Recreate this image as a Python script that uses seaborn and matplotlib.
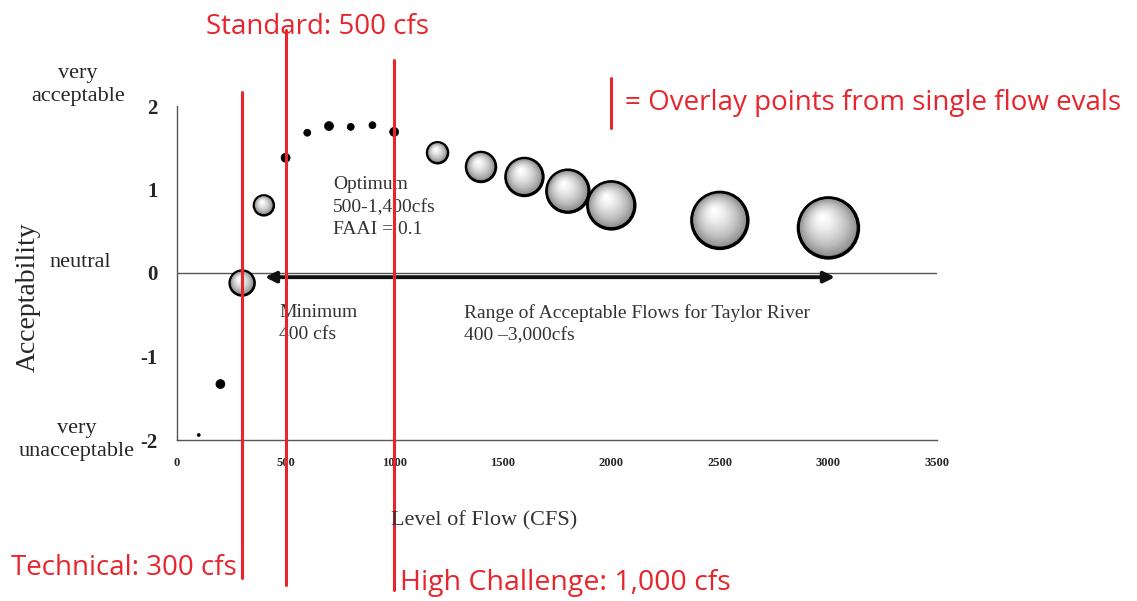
import numpy as np
import pandas as pd
import matplotlib
matplotlib.use("Agg")
import matplotlib.pyplot as plt
import matplotlib.transforms as mtransforms
import seaborn as sns

# flow levels (cfs), mean acceptability and marker diameter (spread of responses)
flow = [100, 200, 300, 400, 500, 600, 700, 800, 900, 1000,
        1200, 1400, 1600, 1800, 2000, 2500, 3000]
acceptability = [-1.94, -1.33, -0.12, 0.81, 1.38, 1.68, 1.76, 1.75, 1.77, 1.69,
                 1.44, 1.27, 1.15, 0.98, 0.81, 0.63, 0.54]
spread = [3, 9, 24, 19, 9, 7, 9, 7, 7, 9,
          20, 29, 37, 42, 47, 56, 60]

overlay_flows = [300, 500, 1000]
overlay_labels = ["Technical: 300 cfs", "Standard: 500 cfs", "High Challenge: 1,000 cfs"]

x_ticks = [0, 500, 1000, 1500, 2000, 2500, 3000, 3500]
y_ticks = [-2, -1, 0, 1, 2]

df = pd.DataFrame({"flow": flow, "acc": acceptability, "spread": spread})
df["s"] = (df["spread"] * 0.72) ** 2
df["kind"] = np.where(df["spread"] >= 15, "bubble", "dot")

sns.set_style("white")
plt.rcParams["font.family"] = ["Liberation Serif", "DejaVu Serif"]

fig = plt.figure(figsize=(11.37, 6.01), dpi=100)
ax = fig.add_axes([177 / 1137, 161 / 601, 760 / 1137, 334 / 601])

red = "#e8242c"

# zero line and range arrow
ax.axhline(0, color="#555555", lw=1, zorder=1)
ax.annotate("", xy=(405, -0.05), xytext=(3030, -0.05),
            arrowprops=dict(arrowstyle="<|-|>", lw=2.8, color="#111111",
                            mutation_scale=16, shrinkA=0, shrinkB=0), zorder=2)

# small black dots
dots = df[df["kind"] == "dot"]
sns.scatterplot(data=dots, x="flow", y="acc", s=dots["s"], color="black",
                edgecolor="black", linewidth=0.5, ax=ax, zorder=4, legend=False)

# shaded bubbles
bub = df[df["kind"] == "bubble"]
sns.scatterplot(data=bub, x="flow", y="acc", s=bub["s"], color="#7a7a7a",
                edgecolor="black", linewidth=2.5, ax=ax, zorder=4, legend=False)
fracs = np.linspace(0.94, 0.08, 16)
shades = plt.get_cmap("Greys_r")(np.linspace(0.5, 1.0, 16))
for _, row in bub.iterrows():
    r_pt = row["spread"] * 0.72 / 2
    for f, c in zip(fracs, shades):
        off = mtransforms.ScaledTranslation(-(1 - f) * r_pt * 0.22 / 72,
                                            (1 - f) * r_pt * 0.38 / 72,
                                            fig.dpi_scale_trans)
        ax.scatter([row["flow"]], [row["acc"]], s=row["s"] * f ** 2, color=c,
                   edgecolor="none", transform=ax.transData + off, zorder=5)

# red overlay lines for single flow evaluations
spans = [(1.042, -0.413), (1.228, -0.434), (1.138, -0.449)]
for fx, (top, bot) in zip(overlay_flows, spans):
    ax.axvline(fx, ymin=bot, ymax=top, color=red, lw=2.2, clip_on=False, zorder=6)

ax.set_xlim(0, 3500)
ax.set_ylim(-2, 2)
ax.set_xticks(x_ticks)
ax.set_yticks(y_ticks)
ax.set_xticklabels([str(t) for t in x_ticks], fontsize=9, fontweight="bold")
ax.set_yticklabels([str(t) for t in y_ticks], fontsize=15, fontweight="bold")
ax.set_xlabel("")
ax.set_ylabel("")
ax.tick_params(axis="x", direction="inout", length=6, width=0.8, color="#555555", pad=9)
ax.tick_params(axis="y", direction="out", length=6, width=0.8, color="#555555", pad=8)
for side in ["top", "right"]:
    ax.spines[side].set_visible(False)
for side in ["left", "bottom"]:
    ax.spines[side].set_color("#555555")
    ax.spines[side].set_linewidth(1)

# text annotations inside the plot
tc = "#333333"
ax.text(720, 1.16, "Optimum\n500-1,400cfs\nFAAI = 0.1", fontsize=14, color=tc,
        va="top", linespacing=1.42, zorder=3)
ax.text(470, -0.37, "Minimum\n400 cfs", fontsize=14, color=tc, va="top",
        linespacing=1.42, zorder=3)
ax.text(1320, -0.37, "Range of Acceptable Flows for Taylor River\n400 \u20133,000cfs",
        fontsize=14, color=tc, va="top", linespacing=1.42, zorder=3)

# qualitative labels on the left
fig.text(78 / 1137, 1 - 85 / 601, "very\nacceptable", fontsize=16, ha="center",
         va="center", linespacing=1.35)
fig.text(80 / 1137, 1 - 262 / 601, "neutral", fontsize=16, ha="center", va="center")
fig.text(77 / 1137, 1 - 440 / 601, "very\nunacceptable", fontsize=16, ha="center",
         va="center", linespacing=1.3)
fig.text(28 / 1137, 1 - 297 / 601, "Acceptability", fontsize=20, rotation=90,
         ha="center", va="center")
fig.text(484 / 1137, 1 - 521 / 601, "Level of Flow (CFS)", fontsize=16,
         ha="center", va="center", color=tc)

# red labels for the overlay lines
rf = ["Open Sans", "DejaVu Sans"]
fig.text(318 / 1137, 1 - 27 / 601, overlay_labels[1], fontsize=20, color=red,
         ha="center", va="center", family=rf)
fig.text(124 / 1137, 1 - 568 / 601, overlay_labels[0], fontsize=20, color=red,
         ha="center", va="center", family=rf)
fig.text(400 / 1137, 1 - 583 / 601, overlay_labels[2], fontsize=20.5, color=red,
         ha="left", va="center", family=rf)
fig.text(625 / 1137, 1 - 103 / 601, "= Overlay points from single flow evals",
         fontsize=20, color=red, ha="left", va="center", family=rf)
fig.add_artist(plt.Line2D([611 / 1137, 611 / 1137], [1 - 78 / 601, 1 - 128 / 601],
                          color=red, lw=2.2, transform=fig.transFigure))

fig.savefig("out.png", dpi=100)
